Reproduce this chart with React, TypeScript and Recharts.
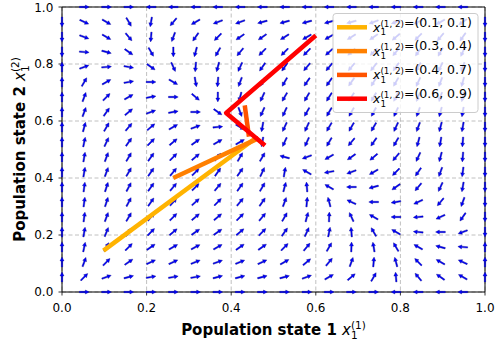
import React from "react";
import {
  ComposedChart,
  Scatter,
  XAxis,
  YAxis,
  CartesianGrid,
  ReferenceLine,
} from "recharts";

// grid of the quiver (20 x 20 points on [0, 1])
const GRID = [
  0, 0.0526, 0.1053, 0.1579, 0.2105, 0.2632, 0.3158, 0.3684, 0.4211, 0.4737,
  0.5263, 0.5789, 0.6316, 0.6842, 0.7368, 0.7895, 0.8421, 0.8947, 0.9474, 1,
];

// arrow direction in degrees (0 = right, 90 = up), rows from y = 1.0 down to y = 0.0
const FIELD_ANGLES: (number | null)[][] = [
  [null, 0, 0, 0, 180, 180, 180, 180, 180, 180, 180, 180, 180, 180, 180, 180, 180, 180, 180, null],
  [-90, -25, -30, -60, -100, -130, -150, -160, -160, -165, -165, -165, -165, -165, -160, -160, -155, -150, -145, -90],
  [-90, -20, -30, -50, -95, -110, -125, -135, -145, -145, -148, -150, -150, -148, -145, -140, -135, -130, -125, -90],
  [-90, -5, -15, -35, -60, -90, -105, -120, -130, -135, -135, -135, -138, -138, -135, -130, -125, -120, -115, -90],
  [90, 20, 5, -10, -35, -65, -95, -105, -115, -125, -125, -130, -130, -130, -128, -125, -120, -115, -110, -90],
  [90, 60, 30, 10, 0, -30, -80, -95, -110, -120, -120, -125, -125, -125, -122, -120, -115, -110, -105, -90],
  [90, 70, 45, 30, 10, 0, -40, -90, -105, -115, -120, -120, -122, -122, -120, -118, -112, -108, -102, -90],
  [90, 70, 55, 40, 20, 10, 0, -35, -70, -115, -115, -120, -120, -120, -118, -115, -110, -105, -100, -90],
  [90, 75, 60, 50, 40, 30, 20, 5, -30, -100, -115, -115, -120, -120, -120, -115, -110, -105, -100, -90],
  [90, 78, 65, 55, 45, 40, 35, 30, 30, -100, -115, -115, -120, -130, -125, -120, -105, -100, -95, -90],
  [90, 80, 70, 60, 55, 45, 40, 50, 60, 60, 165, -160, -150, -145, -140, -130, -115, -105, -95, -90],
  [90, 80, 70, 60, 55, 50, 45, 55, 55, 65, 80, 150, -170, -160, -150, -135, -125, -110, -98, -90],
  [90, 82, 72, 62, 55, 50, 45, 50, 55, 60, 75, 95, 150, 180, -165, -145, -130, -115, -100, -90],
  [90, 82, 72, 62, 55, 48, 42, 45, 50, 55, 70, 85, 105, 155, 180, -170, -155, -130, -110, -90],
  [90, 82, 70, 60, 50, 45, 40, 40, 45, 50, 60, 75, 88, 115, 150, 180, -175, -155, -125, -90],
  [90, 80, 68, 55, 45, 40, 35, 35, 40, 45, 55, 65, 78, 95, 120, 150, 175, 180, -160, -90],
  [90, 78, 62, 45, 35, 30, 28, 30, 35, 35, 45, 50, 60, 88, 100, 120, 150, 165, 175, 90],
  [90, 70, 45, 35, 25, 25, 22, 20, 22, 25, 30, 40, 50, 70, 85, 105, 135, 150, 155, 90],
  [90, 45, 20, 15, 10, 10, 10, 15, 15, 15, 15, 20, 30, 40, 60, 95, 130, 145, 150, 90],
  [null, 0, 0, 0, 0, 0, 0, 0, 0, 0, 0, 0, 0, 0, 0, 180, 180, 180, 180, null],
];

// trajectories (x1 = population 1, x2 = population 2)
const TRAJ_1 = [
  { x: 0.098, y: 0.145 },
  { x: 0.455, y: 0.537 },
];
const TRAJ_2 = [
  { x: 0.263, y: 0.4 },
  { x: 0.465, y: 0.54 },
];
const TRAJ_3 = [
  { x: 0.432, y: 0.655 },
  { x: 0.442, y: 0.545 },
];
const TRAJ_4 = [
  { x: 0.6, y: 0.9 },
  { x: 0.388, y: 0.628 },
  { x: 0.48, y: 0.514 },
];

const TRAJ_LABELS = ["(0.1, 0.1)", "(0.3, 0.4)", "(0.4, 0.7)", "(0.6, 0.9)"];
const TRAJ_COLORS = ["#ffb300", "#ff8000", "#ff5400", "#ff0000"];
const TICKS = [0, 0.2, 0.4, 0.6, 0.8, 1.0];

const FONT = "DejaVu Sans";

const fieldPoints = FIELD_ANGLES.flatMap((row, r) =>
  row
    .map((a, i) => (a === null ? null : { x: GRID[i], y: GRID[GRID.length - 1 - r], a }))
    .filter((p) => p !== null)
);

const Arrow = (props: any) => {
  const { cx, cy, payload } = props;
  if (cx == null || cy == null) return <g />;
  return (
    <path
      transform={`translate(${cx},${cy}) rotate(${-payload.a})`}
      d="M-4.9,-0.7 L1.1,-0.7 L1.1,-2 L4.9,0 L1.1,2 L1.1,0.7 L-4.9,0.7 Z"
      fill="#0000ff"
      stroke="#000080"
      strokeWidth={0.35}
    />
  );
};

const NoDot = () => <g />;

const MathX = ({ sup, size, sub }: { sup: string; size: number; sub: string }) => {
  const s = size * 0.7;
  return (
    <>
      <tspan fontStyle="italic" fontWeight="normal">x</tspan>
      <tspan fontWeight="normal" fontSize={s} dy={size * 0.28}>{sub}</tspan>
      <tspan fontWeight="normal" fontSize={s} dx={-s * 0.636} dy={-size * 0.7}>{sup}</tspan>
      <tspan dy={size * 0.42}>{""}</tspan>
    </>
  );
};

export default function App() {
  const trajs = [TRAJ_1, TRAJ_2, TRAJ_3, TRAJ_4];
  return (
    <div style={{ position: "absolute", left: 0, top: 0, width: 495, height: 345, background: "#fff" }}>
      <ComposedChart
        width={495}
        height={345}
        margin={{ top: 7, right: 10, bottom: 0, left: 12 }}
      >
        <CartesianGrid stroke="#b0b0b0" strokeDasharray="4 2.5" strokeWidth={0.8} />
        <XAxis
          type="number"
          dataKey="x"
          domain={[0, 1]}
          ticks={TICKS}
          tickFormatter={(v: number) => v.toFixed(1)}
          height={53}
          tickSize={3.5}
          tickMargin={7.7}
          axisLine={{ stroke: "#000", strokeWidth: 1 }}
          tickLine={{ stroke: "#000", strokeWidth: 0.8 }}
          tick={{ fill: "#000", fontSize: 12, fontFamily: FONT }}
        />
        <YAxis
          type="number"
          dataKey="y"
          domain={[0, 1]}
          ticks={TICKS}
          tickFormatter={(v: number) => v.toFixed(1)}
          width={50}
          tickSize={3.5}
          tickMargin={5.2}
          axisLine={{ stroke: "#000", strokeWidth: 1 }}
          tickLine={{ stroke: "#000", strokeWidth: 0.8 }}
          tick={{ fill: "#000", fontSize: 12, fontFamily: FONT }}
        />
        <Scatter
          data={fieldPoints}
          shape={Arrow}
          isAnimationActive={false}
          legendType="none"
        />
        {trajs.map((t, k) => (
          <Scatter
            key={k}
            data={t}
            fill={TRAJ_COLORS[k]}
            line={{ stroke: TRAJ_COLORS[k], strokeWidth: 4.5, strokeLinejoin: "round" }}
            shape={NoDot}
            isAnimationActive={false}
            legendType="none"
          />
        ))}
        <ReferenceLine y={1} stroke="#000" strokeWidth={1} />
        <ReferenceLine x={1} stroke="#000" strokeWidth={1} />
      </ComposedChart>

      <svg
        width={495}
        height={345}
        style={{ position: "absolute", left: 0, top: 0, pointerEvents: "none" }}
        fontFamily={FONT}
      >
        {/* axis labels */}
        <text x={273.5} y={335} textAnchor="middle" fontSize={15} fontWeight="bold" fill="#000">
          <tspan>Population state 1 </tspan>
          <MathX size={15} sub="1" sup="(1)" />
        </text>
        <text
          x={25}
          y={149.5}
          transform="rotate(-90, 25, 149.5)"
          textAnchor="middle"
          fontSize={15}
          fontWeight="bold"
          fill="#000"
        >
          <tspan>Population state 2 </tspan>
          <MathX size={15} sub="1" sup="(2)" />
        </text>

        {/* legend */}
        <rect x={333} y={13.5} width={145} height={99} rx={3} fill="#fff" fillOpacity={0.8} stroke="#cccccc" strokeWidth={1} />
        {TRAJ_LABELS.map((lab, k) => {
          const cy = 27.3 + k * 23.8;
          return (
            <g key={lab}>
              <line x1={337} x2={367} y1={cy} y2={cy} stroke={TRAJ_COLORS[k]} strokeWidth={4.5} />
              <text x={373} y={cy + 4.5} fontSize={12.5} fill="#000">
                <MathX size={12.5} sub="1" sup="(1, 2)" />
                <tspan>={lab}</tspan>
              </text>
            </g>
          );
        })}
      </svg>
    </div>
  );
}
